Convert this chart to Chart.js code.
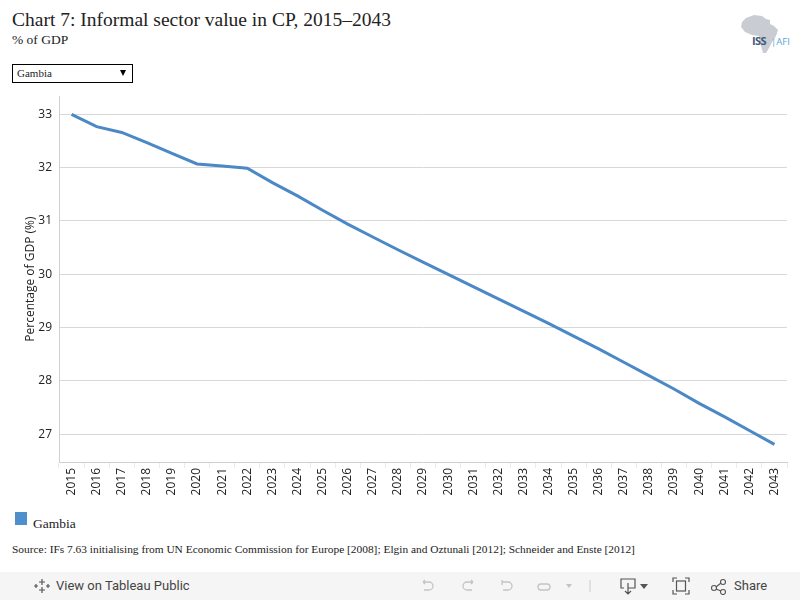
<!DOCTYPE html>
<html>
<head>
<meta charset="utf-8">
<script src="https://cdn.jsdelivr.net/npm/chart.js@4"></script>
<style>
  html, body { margin: 0; padding: 0; background: #fff; }
  body { width: 800px; height: 600px; position: relative; overflow: hidden; }
  .serif { font-family: "Liberation Serif", "DejaVu Serif", serif; color: #222; }
  #title { position: absolute; left: 12px; top: 9px; font-size: 19.5px; white-space: nowrap; }
  #subtitle { position: absolute; left: 12px; top: 32px; font-size: 13.5px; }
  #picker { position: absolute; left: 12px; top: 64px; width: 119px; height: 17px; border: 1px solid #000; font-size: 11px; }
  #picker span { position: absolute; left: 4px; top: 2px; }
  #picker i { position: absolute; right: 6px; top: 5px; width: 0; height: 0; border-left: 3.5px solid transparent; border-right: 3.5px solid transparent; border-top: 6px solid #000; }
  #logo { position: absolute; left: 736px; top: 12px; width: 56px; height: 44px; }
  #wrap { position: absolute; left: 0; top: 82px; width: 800px; height: 423px; }
  #legend { position: absolute; left: 15px; top: 512px; font-size: 13.5px; }
  #legend b { position: absolute; left: 0; top: 0; width: 12px; height: 13px; background: #4f8fcb; }
  #legend span { position: absolute; left: 18px; top: 4px; white-space: nowrap; }
  #source { position: absolute; left: 12px; top: 543px; font-size: 11.4px; white-space: nowrap; }
  #bar { position: absolute; left: 0; top: 572px; width: 800px; height: 28px; background: #f5f5f5; font-family: Roboto, "Open Sans", sans-serif; }
  #bar .t { position: absolute; top: 6px; font-size: 13px; color: #444; white-space: nowrap; }
  #bar svg { position: absolute; }
</style>
</head>
<body>
<div id="title" class="serif">Chart 7: Informal sector value in CP, 2015–2043</div>
<div id="subtitle" class="serif">% of GDP</div>
<div id="picker" class="serif"><span>Gambia</span><i></i></div>
<svg id="logo" viewBox="0 0 56 44">
  <path d="M10 6 L18 3 L26 4 L30 7 L34 8 L34 12 L38 14 L42 18 L40 24 L36 30 L33 36 L30 41 L27 41 L25 34 L23 28 L23 24 L16 23 L9 20 L5 15 L6 10 Z" fill="#c9ccd3"/>
  <text x="16" y="33" font-family="Open Sans, sans-serif" font-size="11" font-weight="bold" fill="#3f5a7a" letter-spacing="-0.6">ISS</text>
  <text x="35" y="33" font-family="Open Sans, sans-serif" font-size="9.5" fill="#5aa6d6">|AFI</text>
</svg>
<div id="wrap"><canvas id="chart"></canvas></div>
<div id="legend" class="serif"><b></b><span>Gambia</span></div>
<div id="source" class="serif">Source: IFs 7.63 initialising from UN Economic Commission for Europe [2008]; Elgin and Oztunali [2012]; Schneider and Enste [2012]</div>
<div id="bar">
  <svg style="left:34px;top:6px" width="16" height="16" viewBox="0 0 16 16" stroke="#555" stroke-width="1.2">
    <path d="M8 1v6M5 4h6M8 9v6M5 12h6M2 6v4M0 8h4M14 6v4M12 8h4"/>
  </svg>
  <span class="t" style="left:56px">View on Tableau Public</span>
  <svg style="left:420px;top:6px" width="160" height="16" viewBox="0 0 160 16" fill="none" stroke="#c4c4c4" stroke-width="1.3">
    <path d="M3 4h6a4 4 0 0 1 0 8H4M3 4l2-2M3 4l2 2"/>
    <path d="M53 4h-6a4 4 0 0 0 0 8h5M53 4l-2-2M53 4l-2 2"/>
    <path d="M82 2v5M82 4h6a4 4 0 0 1 0 8H83"/>
    <path d="M127 6h-6a3 3 0 0 0 0 6h6a3 3 0 0 0 0-6"/>
    <path d="M146 6l3 4 3-4z" fill="#c4c4c4" stroke="none"/>
  </svg>
  <svg style="left:589px;top:6px" width="2" height="16"><path d="M1 2v12" stroke="#ccc"/></svg>
  <svg style="left:618px;top:5px" width="36" height="18" viewBox="0 0 36 18" fill="none" stroke="#555" stroke-width="1.2">
    <path d="M6 11H3V2h14v9h-7M10 6v11M7 14l3 3 3-3"/>
    <path d="M22 7l4 5 4-5z" fill="#555" stroke="none"/>
  </svg>
  <svg style="left:672px;top:5px" width="18" height="18" viewBox="0 0 18 18" fill="none" stroke="#555" stroke-width="1.2">
    <path d="M1 5V1h4M13 1h4v4M17 13v4h-4M5 17H1v-4"/><rect x="4.5" y="4" width="9" height="10"/>
  </svg>
  <svg style="left:710px;top:5px" width="18" height="18" viewBox="0 0 18 18" fill="none" stroke="#555" stroke-width="1.1">
    <circle cx="4" cy="11" r="2.5"/><circle cx="13" cy="5" r="2.5"/><circle cx="13" cy="15" r="2.5"/>
    <path d="M6 10l5-4M6 12l5 2"/>
  </svg>
  <span class="t" style="left:734px">Share</span>
</div>
<script>
const years = ['2015','2016','2017','2018','2019','2020','2021','2022','2023','2024','2025','2026','2027','2028','2029',
  '2030','2031','2032','2033','2034','2035','2036','2037','2038','2039','2040','2041','2042','2043'];
const gambia = [33.00, 32.77, 32.66, 32.47, 32.27, 32.07, 32.03, 31.99, 31.72, 31.47, 31.20, 30.94, 30.70, 30.46, 30.23,
  30.00, 29.77, 29.54, 29.31, 29.08, 28.84, 28.60, 28.35, 28.10, 27.85, 27.58, 27.33, 27.07, 26.81];
const yTicks = [27, 28, 29, 30, 31, 32, 33];
const yMin = 26.48;
const yMax = 33.34;

const axisFont = { family: '"Open Sans", "DejaVu Sans", sans-serif', size: 12 };

new Chart(document.getElementById('chart'), {
  type: 'line',
  data: {
    labels: years,
    datasets: [{
      label: 'Gambia',
      data: gambia,
      borderColor: '#4b88c6',
      borderWidth: 3,
      pointRadius: 0,
      fill: false,
      tension: 0
    }]
  },
  options: {
    responsive: true,
    maintainAspectRatio: false,
    animation: false,
    layout: { padding: { top: 5, right: 13, left: 0, bottom: 0 } },
    plugins: { legend: { display: false }, tooltip: { enabled: false } },
    scales: {
      x: {
        offset: true,
        grid: { drawOnChartArea: false, offset: true, tickLength: 6, color: '#ececec' },
        border: { color: '#d0d0d0' },
        ticks: { minRotation: 90, maxRotation: 90, autoSkip: false, color: '#222', font: axisFont, padding: 0 },
        afterFit: s => { s.height = 43; }
      },
      y: {
        min: yMin,
        max: yMax,
        afterBuildTicks: axis => { axis.ticks = yTicks.map(v => ({ value: v })); },
        grid: { color: '#d8d8d8', drawTicks: false },
        border: { color: '#d0d0d0' },
        ticks: { color: '#222', font: axisFont, padding: 7 },
        title: { display: true, text: 'Percentage of GDP (%)', color: '#222', font: axisFont, padding: { top: 23 } },
        afterFit: s => { s.width = 59; }
      }
    }
  }
});
</script>
</body>
</html>
